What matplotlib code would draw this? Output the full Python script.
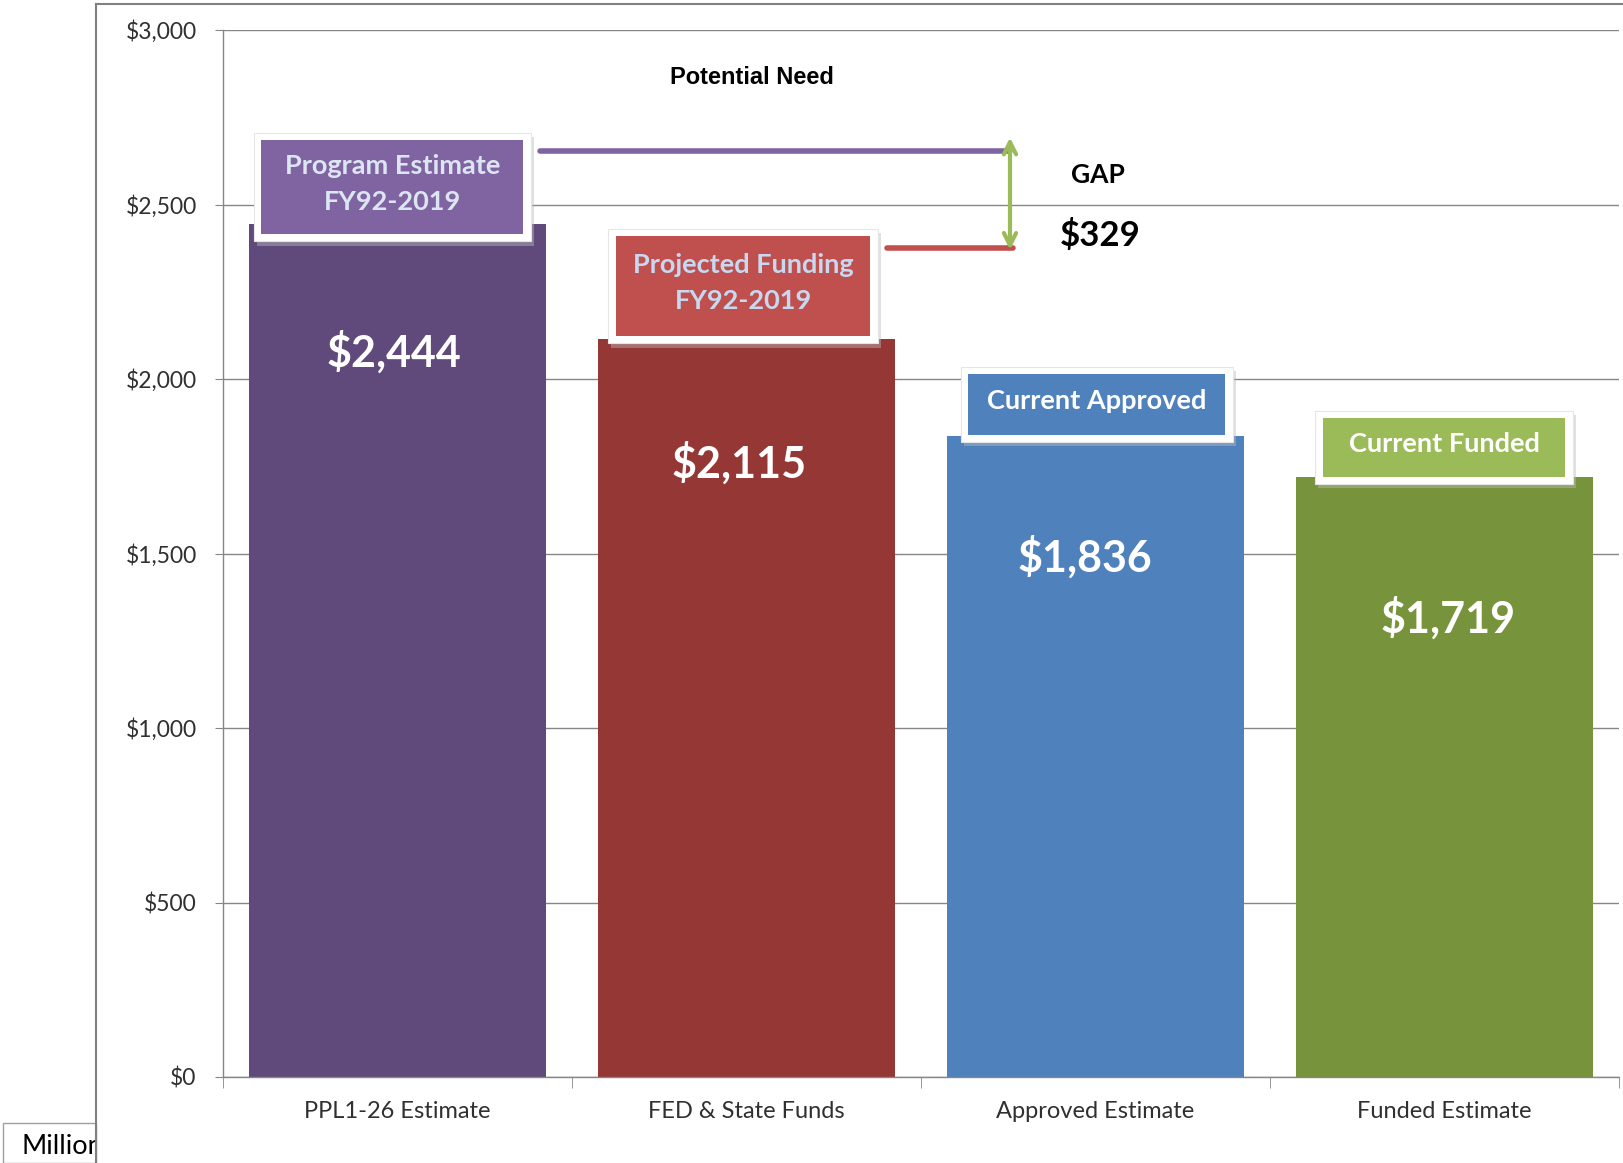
import matplotlib
matplotlib.use("Agg")
import matplotlib.pyplot as plt
from matplotlib.patches import Rectangle
from matplotlib.lines import Line2D
from matplotlib.transforms import Bbox

plt.rcParams['font.family'] = ['Lato', 'DejaVu Sans']

# data
categories = ['PPL1-26 Estimate', 'FED & State Funds', 'Approved Estimate', 'Funded Estimate']
values = [2444, 2115, 1836, 1719]
box_labels = ['Program Estimate\nFY92-2019', 'Projected Funding\nFY92-2019',
              'Current Approved', 'Current Funded']
gap_value = 329
y_ticks = [0, 500, 1000, 1500, 2000, 2500, 3000]

# styles
bar_colors = ['#604A7B', '#953735', '#4F81BD', '#77933C']
box_colors = ['#8064A2', '#C0504D', '#4F81BD', '#9BBB59']
box_text_colors = ['#DCE6F2', '#C6D9F1', 'white', 'white']
# label boxes: center x, center y, width, height (data units)
box_geom = [(-0.015, 2550, 0.75, 271), (0.99, 2266, 0.73, 288),
            (2.004, 1927, 0.736, 175), (2.999, 1803, 0.695, 169)]
value_label_pos = [(-0.01, 2077), (0.98, 1760), (1.97, 1490), (3.01, 1315)]

W, H = 1624, 1163
fig = plt.figure(figsize=(W / 100, H / 100), dpi=100)
ax = fig.add_axes([223 / W, 86 / H, (1619 - 223) / W, (1077 - 30) / H])

x = list(range(len(categories)))
ax.bar(x, values, width=0.85, color=bar_colors, zorder=2)

ax.set_xlim(-0.5, 3.5)
ax.set_ylim(0, 3000)
ax.set_yticks(y_ticks)
ax.set_yticklabels(['${:,}'.format(v) for v in y_ticks], fontsize=16.5, color='#303030')
ax.set_xticks(x)
ax.set_xticklabels(categories, fontsize=17, color='#303030')
ax.set_xticks([i - 0.5 for i in range(len(categories) + 1)], minor=True)
ax.tick_params(axis='x', which='major', length=0, pad=17)
ax.tick_params(axis='x', which='minor', length=8, color='#868686', direction='out')
ax.tick_params(axis='y', length=6, color='#868686', pad=13)
ax.yaxis.grid(True, color='#868686', lw=1, zorder=0)
ax.set_axisbelow(True)
for s in ['top', 'right']:
    ax.spines[s].set_visible(False)
for s in ['left', 'bottom']:
    ax.spines[s].set_color('#868686')
    ax.spines[s].set_linewidth(1)

# label boxes with white frame and soft shadow
for (cx, cy, w, h), lab, bc, tc in zip(box_geom, box_labels, box_colors, box_text_colors):
    px, py = 0.022, 20
    ax.add_patch(Rectangle((cx - w / 2 - px + 0.008, cy - h / 2 - py - 12), w + 2 * px, h + 2 * py,
                           facecolor='#bbbbbb', alpha=0.45, edgecolor='none', zorder=3))
    ax.add_patch(Rectangle((cx - w / 2 - px, cy - h / 2 - py), w + 2 * px, h + 2 * py,
                           facecolor='white', edgecolor='#e6e6e6', lw=0.8, zorder=4))
    ax.add_patch(Rectangle((cx - w / 2, cy - h / 2), w, h, facecolor=bc, edgecolor='none', zorder=5))
    ax.text(cx, cy + 10, lab, ha='center', va='center', fontsize=19.5, fontweight='bold',
            color=tc, linespacing=1.6, zorder=6)

# value labels
for (lx, ly), v in zip(value_label_pos, values):
    ax.text(lx, ly, '${:,}'.format(v), ha='center', va='center', fontsize=31,
            fontweight='bold', color='white', zorder=6)

# gap lines and arrow
ax.plot([0.408, 1.755], [2653, 2653], color='#8064A2', lw=4, solid_capstyle='round', zorder=5)
ax.plot([1.402, 1.764], [2374, 2374], color='#C0504D', lw=4, solid_capstyle='round', zorder=5)
ax.annotate('', xy=(1.755, 2700), xytext=(1.755, 2362),
            arrowprops=dict(arrowstyle='<->', color='#9BBB59', lw=3, mutation_scale=22),
            zorder=6)

ax.text(1.016, 2863, 'Potential Need', ha='center', va='center', fontsize=17,
        fontweight='bold', family=['Liberation Sans', 'DejaVu Sans'], color='black')
ax.text(2.007, 2585, 'GAP', ha='center', va='center', fontsize=19, fontweight='bold', color='black')
ax.text(2.013, 2412, '${:,}'.format(gap_value), ha='center', va='center', fontsize=25,
        fontweight='bold', color='black')

# chart area border (cropped) and units box
fig.add_artist(Line2D([96 / W, 96 / W], [0, 1 - 4 / H], transform=fig.transFigure,
                      color='#808080', lw=1.5))
fig.add_artist(Line2D([96 / W, 1], [1 - 4 / H, 1 - 4 / H], transform=fig.transFigure,
                      color='#808080', lw=1.5))
fig.add_artist(Rectangle((3 / W, 0), 93 / W, 40 / H, transform=fig.transFigure,
                         facecolor='white', edgecolor='#a0a0a0', lw=1))
t = fig.text(22 / W, 17 / H, 'Millions', ha='left', va='center', fontsize=19.5, color='black')
t.set_clip_box(Bbox.from_extents(3, 0, 95, 45))

fig.savefig('out.png', dpi=100)
